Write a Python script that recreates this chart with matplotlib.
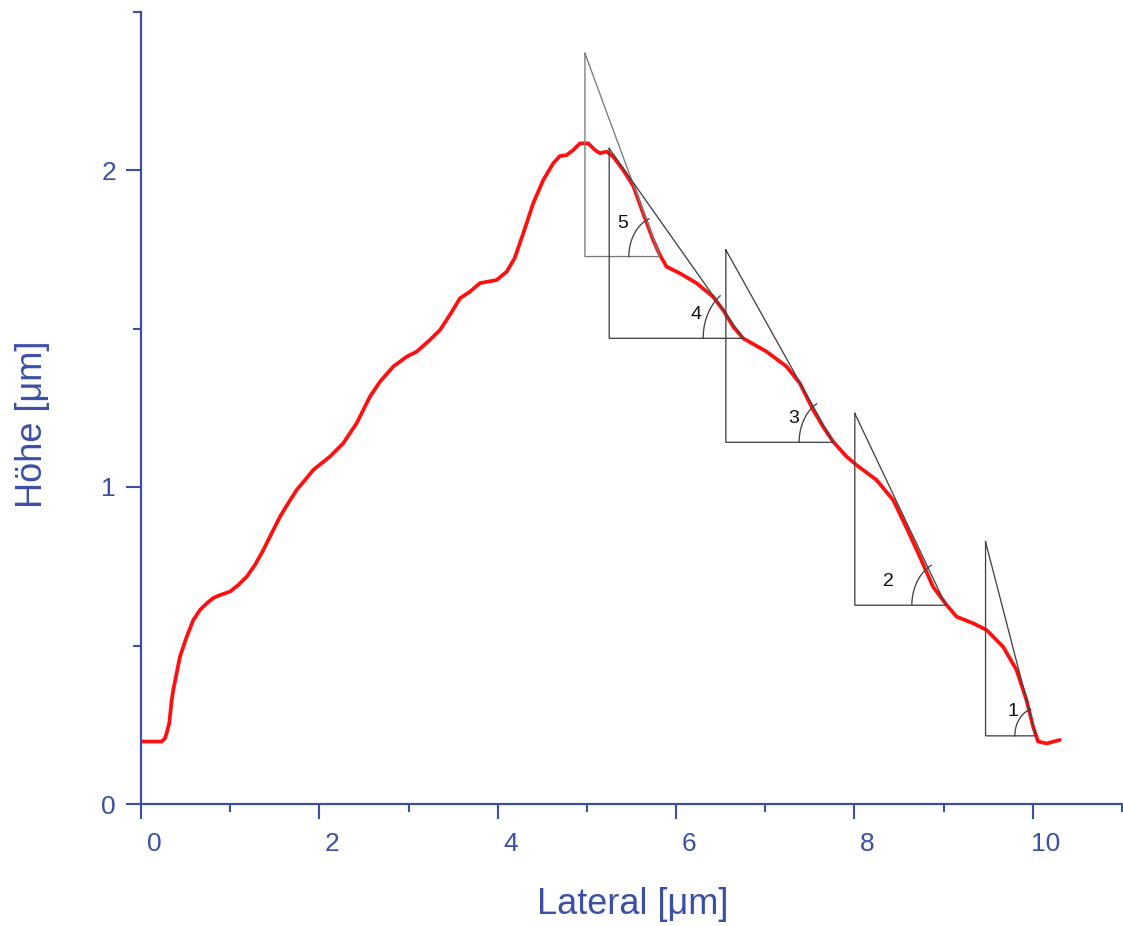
import numpy as np
import matplotlib
matplotlib.use("Agg")
import matplotlib.pyplot as plt
from matplotlib.transforms import ScaledTranslation

plt.rcParams['font.family'] = ['Liberation Sans', 'DejaVu Sans']

# profile data (lateral in um, height in um)
lateral = [0.0, 0.232, 0.269, 0.288, 0.317, 0.344, 0.362, 0.400, 0.437, 0.512,
           0.586, 0.661, 0.737, 0.811, 0.886, 0.998, 1.091, 1.185, 1.278, 1.371,
           1.465, 1.558, 1.651, 1.746, 1.839, 1.932, 2.026, 2.119, 2.268, 2.418,
           2.567, 2.679, 2.829, 2.979, 3.091, 3.240, 3.352, 3.464, 3.576, 3.688,
           3.800, 3.894, 3.988, 4.100, 4.190, 4.286, 4.398, 4.510, 4.622, 4.697,
           4.772, 4.847, 4.922, 5.015, 5.090, 5.146, 5.221, 5.295, 5.407, 5.519,
           5.631, 5.743, 5.818, 5.893, 6.043, 6.230, 6.416, 6.528, 6.640, 6.752,
           7.015, 7.239, 7.388, 7.537, 7.649, 7.761, 7.911, 8.024, 8.248, 8.434,
           8.584, 8.733, 8.882, 9.033, 9.145, 9.331, 9.481, 9.667, 9.817, 9.929,
           10.003, 10.059, 10.154, 10.303]
height = [0.197, 0.197, 0.207, 0.224, 0.255, 0.328, 0.360, 0.413, 0.465, 0.527,
          0.580, 0.612, 0.633, 0.650, 0.659, 0.670, 0.691, 0.717, 0.754, 0.801,
          0.854, 0.906, 0.949, 0.991, 1.022, 1.054, 1.075, 1.096, 1.138, 1.201,
          1.285, 1.332, 1.380, 1.411, 1.427, 1.464, 1.495, 1.543, 1.595, 1.616,
          1.643, 1.648, 1.653, 1.679, 1.722, 1.800, 1.895, 1.968, 2.021, 2.044,
          2.047, 2.063, 2.084, 2.084, 2.063, 2.053, 2.058, 2.042, 2.000, 1.950,
          1.863, 1.779, 1.732, 1.695, 1.674, 1.643, 1.600, 1.558, 1.506, 1.469,
          1.427, 1.380, 1.327, 1.243, 1.190, 1.143, 1.096, 1.069, 1.022, 0.959,
          0.871, 0.780, 0.685, 0.628, 0.591, 0.570, 0.549, 0.496, 0.423, 0.328,
          0.244, 0.197, 0.191, 0.202]

# slope triangles: label, left x, top y, bottom y, right x
tri_labels = ['5', '4', '3', '2', '1']
tri_left = [4.978, 5.250, 6.558, 8.004, 9.470]
tri_top = [2.368, 2.068, 1.748, 1.232, 0.827]
tri_bottom = [1.727, 1.469, 1.141, 0.627, 0.215]
tri_right = [5.818, 6.752, 7.761, 9.025, 10.034]
tri_label_x = [5.404, 6.222, 7.313, 8.386, 9.779]
tri_label_y = [1.830, 1.545, 1.217, 0.701, 0.291]
tri_colors = ['#7a7a7a', '#444444', '#444444', '#444444', '#444444']
arc_r_px = [31, 40, 34, 34, 21]

x_ticks = [0, 2, 4, 6, 8, 10]
y_ticks = [0, 1, 2]

blue = '#3b50a5'
W, H = 1123, 926
fig = plt.figure(figsize=(W / 100, H / 100), dpi=100)
ax = fig.add_axes([141 / W, (H - 804) / H, (1122 - 141) / W, (804 - 11.5) / H])
ax.set_xlim(0, 11)
ax.set_ylim(0, 2.5)

ax.plot(lateral, height, color='#ff1010', lw=2.7, solid_joinstyle='round',
        solid_capstyle='round', zorder=2)

for i in range(len(tri_labels)):
    xl, yt, yb, xr = tri_left[i], tri_top[i], tri_bottom[i], tri_right[i]
    ax.plot([xl, xl, xr, xl], [yt, yb, yb, yt], color=tri_colors[i], lw=0.95,
            zorder=3, solid_joinstyle='miter')
    ax.text(tri_label_x[i], tri_label_y[i], tri_labels[i], fontsize=14,
            color='#111111', ha='center', va='center', zorder=4)

fig.canvas.draw()
# arcs at the lower-right corner (drawn in pixel space)
for i in range(len(tri_labels)):
    xl, yt, yb, xr = tri_left[i], tri_top[i], tri_bottom[i], tri_right[i]
    v = ax.transData.transform((xr, yb))
    t = ax.transData.transform((xl, yt))
    phi = np.arctan2(t[1] - v[1], t[0] - v[0])
    th = np.linspace(phi, np.pi, 40)
    rx = arc_r_px[i]
    ry = rx * 1.3
    pts = np.column_stack([v[0] + rx * np.cos(th), v[1] + ry * np.sin(th)])
    d = ax.transData.inverted().transform(pts)
    ax.plot(d[:, 0], d[:, 1], color='#444444', lw=0.95, zorder=3)

for s in ['top', 'right']:
    ax.spines[s].set_visible(False)
for s in ['left', 'bottom']:
    ax.spines[s].set_color(blue)
    ax.spines[s].set_linewidth(1.6)

ax.set_xticks(x_ticks)
ax.set_xticks(np.arange(1, 12, 2), minor=True)
ax.set_yticks(y_ticks)
ax.set_yticks([0.5, 1.5, 2.5], minor=True)
ax.tick_params(axis='both', which='major', direction='out', length=11, width=1.5,
               color=blue, labelcolor=blue, labelsize=19)
ax.tick_params(axis='both', which='minor', direction='out', length=5.5, width=1.5,
               color=blue)
ax.tick_params(axis='x', which='major', pad=9)
ax.tick_params(axis='y', which='major', pad=7)
off = ScaledTranslation(13 / 100, 0, fig.dpi_scale_trans)
for lab in ax.get_xticklabels():
    lab.set_transform(lab.get_transform() + off)

ax.set_xlabel('Lateral [\u03bcm]', fontsize=26, color=blue)
ax.xaxis.set_label_coords((633 - 141) / 981, (804 - 905) / 792.5)
ax.xaxis.label.set_va('center')
ax.set_ylabel('H\u00f6he [\u03bcm]', fontsize=26, color=blue)
ax.yaxis.set_label_coords((32 - 141) / 981, (804 - 424) / 792.5)
ax.yaxis.label.set_va('center')

fig.savefig('out.png', dpi=100)
